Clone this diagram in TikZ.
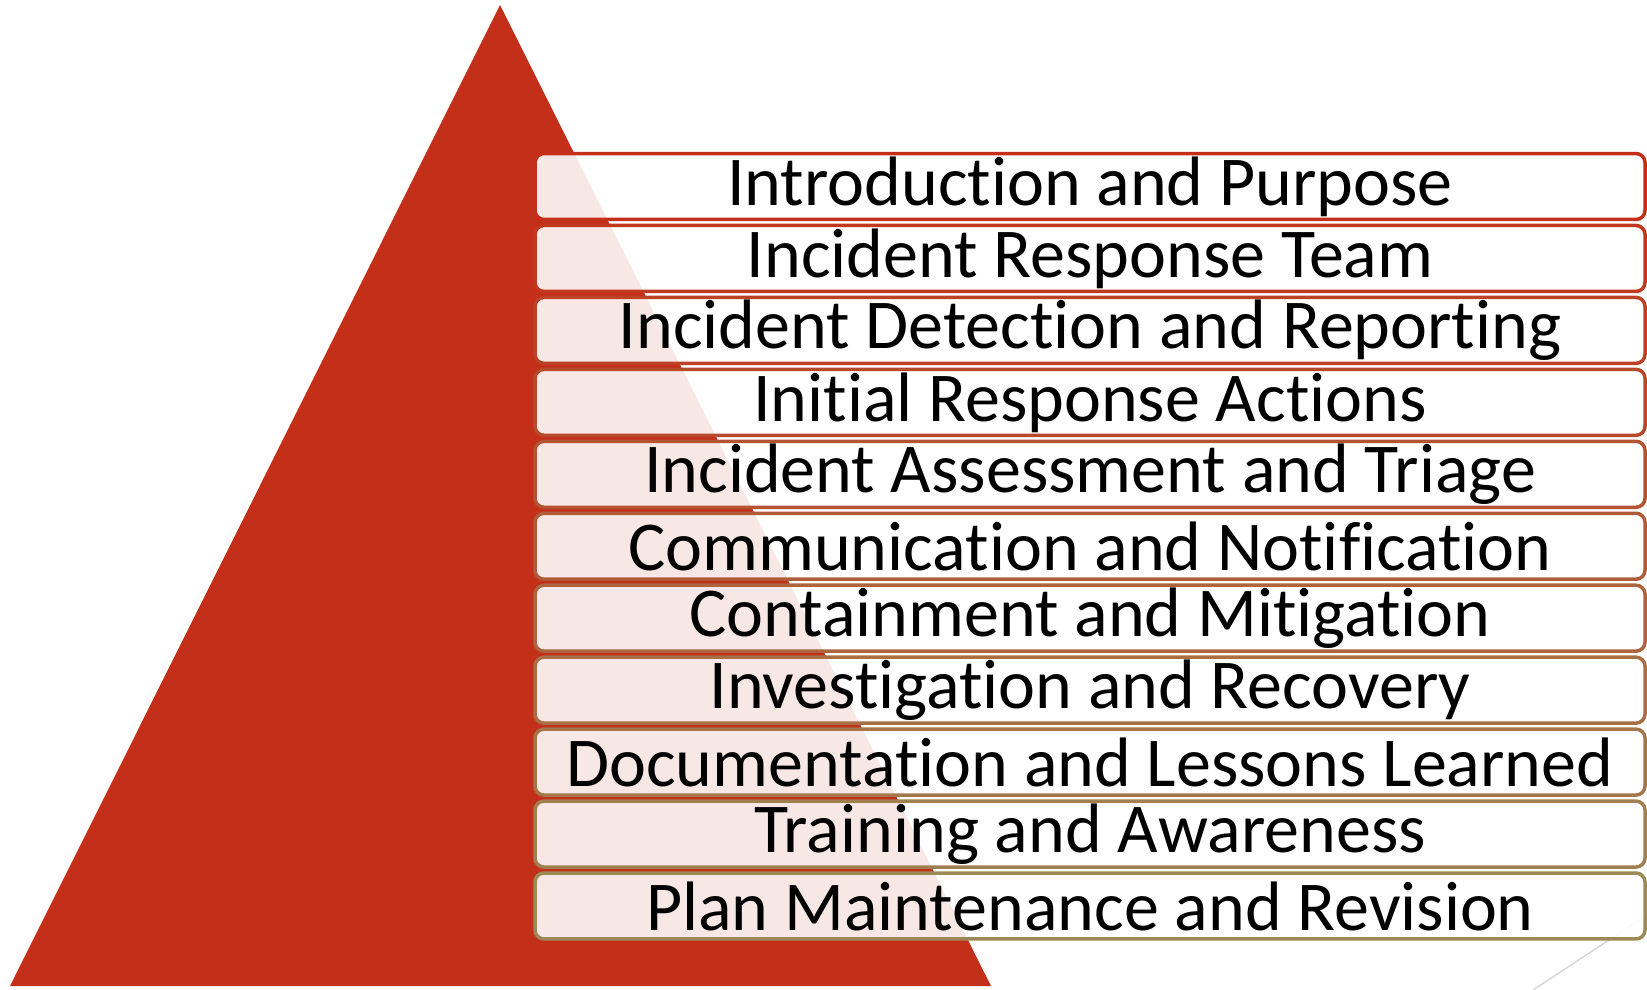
\documentclass[tikz,border=0pt]{standalone}
\usepackage{fontspec}
\setmainfont[Ligatures={NoCommon}]{Carlito}
\definecolor{pyramidred}{RGB}{196,47,26}
\definecolor{baseolive}{RGB}{156,137,86}
\definecolor{guideline}{RGB}{215,215,215}
\tikzset{
  stepbox/.style={rounded corners=9pt, line width=3.5pt, fill=white,
    fill opacity=0.89, text opacity=1, text=black,
    minimum width=1110pt, minimum height=65.95pt, inner sep=0pt,
    font=\fontsize{70}{80}\selectfont},
}
\begin{document}
\begin{tikzpicture}[x=1pt,y=-1pt]
\useasboundingbox (0,0) rectangle (1647,990);
% thin guide line behind the boxes
\coordinate (gA) at (1533,990);
\coordinate (gB) at (1647,915);
\draw[guideline, line width=1.5pt] (gA) -- (gB);
% pyramid
\coordinate (apex) at (500,5);
\coordinate (bright) at (991,986);
\coordinate (bleft) at (10,986);
\fill[pyramidred] (apex) -- (bright) -- (bleft) -- cycle;
% stacked steps
\foreach \txt [count=\i from 0] in {
  Introduction and Purpose,
  Incident Response Team,
  Incident Detection and Reporting,
  Initial Response Actions,
  Incident Assessment and Triage,
  Communication and Notification,
  Containment and Mitigation,
  Investigation and Recovery,
  Documentation and Lessons Learned,
  Training and Awareness,
  Plan Maintenance and Revision}
{
  \pgfmathtruncatemacro\mix{10*\i}
  \node[stepbox, draw=baseolive!\mix!pyramidred] (s\i) at (1090,{186.5+\i*71.95}) {\txt};
}
\end{tikzpicture}
\end{document}
